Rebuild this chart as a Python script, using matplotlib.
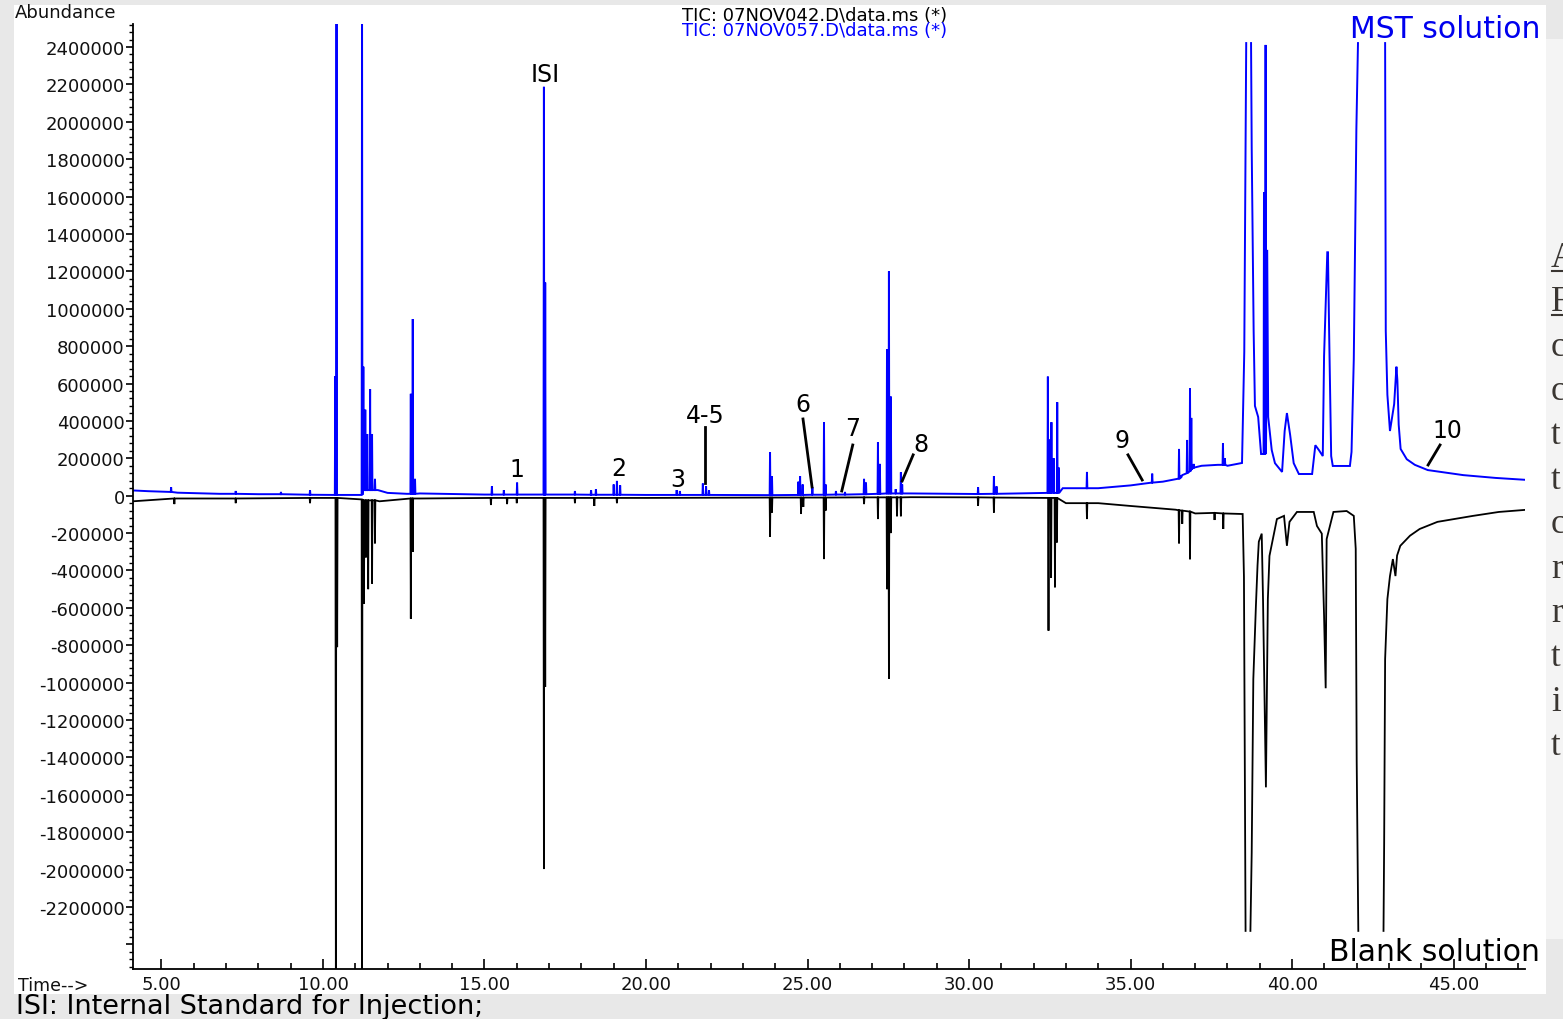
import math
import matplotlib
matplotlib.use("Agg")
import matplotlib.pyplot as plt
from matplotlib.ticker import MultipleLocator, FuncFormatter
from matplotlib.patches import Rectangle
from matplotlib.lines import Line2D

NAN = float('nan')

# --- MST solution (blue, drawn upward) ---
# baseline / contour points (min, abundance)
mst_base_t = [4.12, 4.6, 5.5, 6.8, 8.0, 9.5, 10.30, 11.70, 12.0, 12.6, 13.0, 15.0, 17.0, 20.0, 23.5,
              26.0, 28.2, 30.0, 32.3, 32.9, 33.5, 34.0, 35.0, 36.0, 36.45, 36.6, 36.95, 37.2, 37.7,
              38.0, 38.45, 38.52, 38.58, 38.65, 38.73, 38.75, 38.81, 38.85, 38.95, 39.04, 39.23,
              39.26, 39.37, 39.47, 39.69, 39.77, 39.84, 39.94, 40.05, 40.21, 40.62, 40.72, 40.83,
              40.95, 40.99, 41.09, 41.11, 41.15, 41.21, 41.26, 41.79, 41.84, 41.91, 41.99, 42.04,
              42.45, 42.88, 42.90, 42.95, 43.03, 43.16, 43.23, 43.26, 43.30, 43.36, 43.55, 43.8,
              44.2, 45.3, 46.3, 47.21]
mst_base_y = [28000, 24000, 16000, 10000, 8000, 5000, 4000, 30000, 15000, 10000, 12000, 6000, 6000,
              4000, 3000, 6000, 12000, 9000, 15000, 40000, 40000, 40000, 55000, 75000, 90000, 110000,
              150000, 160000, 165000, 160000, 175000, 769000, 2421000, NAN, 2421000, 1860000,
              881000, 480000, 421000, 223000, 1315000, 421000, 244000, 174000, 127000, 346000,
              442000, 325000, 174000, 116000, 116000, 270000, 244000, 212000, 746000, 1302000,
              1302000, 842000, 212000, 159000, 159000, 234000, 730000, 1961000, 2421000, NAN,
              2421000, 881000, 540000, 346000, 490000, 690000, 615000, 380000, 250000, 195000,
              165000, 137000, 110000, 95000, 85000]
# narrow peaks: retention time, apex, foot
mst_peak_t = [5.3, 7.3, 8.7, 9.6, 10.38, 10.42, 11.21, 11.25, 11.31, 11.37, 11.46, 11.52, 11.61,
              12.72, 12.78, 12.85, 15.23, 15.6, 16.01, 16.84, 16.88, 17.8, 18.3, 18.45, 19.0, 19.1,
              19.2, 20.95, 21.05, 21.76, 21.86, 21.95, 23.84, 23.90, 24.72, 24.77, 24.85, 25.15,
              25.51, 25.56, 25.88, 26.16, 26.75, 26.81, 27.18, 27.24, 27.46, 27.52, 27.58, 27.73,
              27.89, 27.93, 30.28, 30.77, 30.85, 32.44, 32.50, 32.55, 32.62, 32.73, 32.78, 33.65,
              35.67, 36.50, 36.55, 36.75, 36.84, 36.88, 36.95, 37.86, 37.92, 39.13, 39.18]
mst_peak_top = [45000, 25000, 20000, 30000, 640000, 2700000, 2700000, 690000, 460000, 330000,
                570000, 330000, 90000, 545000, 945000, 90000, 50000, 30000, 70000, 2187000,
                1140000, 25000, 30000, 35000, 60000, 79000, 55000, 30000, 25000, 65000, 50000,
                30000, 233000, 105000, 75000, 105000, 60000, 45000, 394000, 60000, 25000, 20000,
                90000, 70000, 287000, 170000, 784000, 1200000, 530000, 35000, 125000, 60000,
                45000, 105000, 50000, 637000, 300000, 393000, 200000, 500000, 150000, 127000,
                118000, 250000, 110000, 298000, 575000, 416000, 170000, 280000, 200000, 1623000,
                2411000]
mst_peak_foot = [20000, 10000, 8000, 5000, 4000, 4000, 4000, 30000, 30000, 30000, 30000, 30000,
                 30000, 10000, 10000, 10000, 6000, 6000, 6000, 6000, 6000, 6000, 5000, 5000, 5000,
                 5000, 5000, 4000, 4000, 4000, 4000, 4000, 3000, 3000, 4000, 4000, 4000, 5000, 5000,
                 5000, 6000, 6000, 8000, 8000, 10000, 10000, 12000, 12000, 12000, 12000, 12000,
                 12000, 9000, 10000, 10000, 15000, 15000, 15000, 15000, 15000, 15000, 40000, 70000,
                 90000, 95000, 120000, 130000, 140000, 150000, 165000, 165000, 223000, 223000]

# --- Blank solution (black, drawn downward) ---
blank_base_t = [4.12, 6.0, 10.30, 11.75, 13.0, 20.0, 28.2, 32.3, 33.0, 34.0, 35.0, 36.4, 37.0,
                38.47, 38.51, 38.56, 38.64, 38.71, 38.75, 38.80, 38.88, 38.93, 38.97, 39.06, 39.10,
                39.19, 39.22, 39.25, 39.30, 39.53, 39.75, 39.84, 39.92, 40.15, 40.67, 40.77, 40.92,
                40.99, 41.04, 41.07, 41.28, 41.69, 41.91, 41.97, 42.00, 42.05, 42.40, 42.83, 42.85,
                42.88, 42.95, 43.03, 43.12, 43.20, 43.25, 43.35, 43.65, 43.95, 44.5, 45.6, 46.4,
                47.21]
blank_base_y = [-30000, -15000, -12000, -30000, -15000, -12000, -8000, -12000, -40000, -40000,
                -55000, -75000, -95000, -98000, -434000, -2328000, NAN, -2328000, -1910000,
                -981000, -590000, -374000, -246000, -203000, -553000, -1560000, -1070000, -553000,
                -322000, -125000, -108000, -268000, -140000, -87000, -87000, -162000, -203000,
                -643000, -1030000, -232000, -87000, -82000, -108000, -284000, -1420000, -2328000,
                NAN, -2328000, -1860000, -874000, -553000, -430000, -339000, -430000, -320000,
                -268000, -214000, -178000, -140000, -108000, -87000, -76000]
blank_peak_t = [5.4, 7.3, 9.6, 10.40, 10.44, 11.21, 11.27, 11.33, 11.40, 11.52, 11.61, 12.72,
                12.78, 15.2, 15.7, 16.0, 16.84, 16.88, 17.8, 18.4, 19.1, 23.84, 23.90, 24.80,
                24.87, 25.51, 25.56, 26.75, 27.18, 27.46, 27.52, 27.58, 27.77, 27.89, 30.28, 30.77,
                32.46, 32.54, 32.66, 32.72, 33.65, 36.50, 36.60, 36.84, 37.60, 37.87]
blank_peak_bot = [-45000, -40000, -40000, -2700000, -810000, -2700000, -577000, -330000, -500000,
                  -470000, -255000, -658000, -300000, -50000, -45000, -40000, -1997000, -1023000,
                  -40000, -55000, -40000, -220000, -90000, -98000, -60000, -339000, -80000,
                  -45000, -125000, -500000, -980000, -200000, -110000, -110000, -55000, -90000,
                  -722000, -440000, -490000, -250000, -125000, -255000, -150000, -340000, -130000,
                  -178000]
blank_peak_foot = [-15000, -15000, -12000, -12000, -12000, -20000, -25000, -25000, -25000,
                   -25000, -25000, -15000, -15000, -12000, -12000, -12000, -12000, -12000, -12000,
                   -12000, -12000, -10000, -10000, -10000, -10000, -10000, -10000, -9000, -9000,
                   -9000, -9000, -9000, -9000, -9000, -9000, -10000, -12000, -12000, -12000,
                   -12000, -40000, -78000, -80000, -85000, -92000, -95000]

# peak labels (text, time, abundance) and their leader lines
lab_text = ["ISI", "1", "2", "3", "4-5", "6", "7", "8", "9", "10"]
lab_t = [16.87, 16.01, 19.16, 20.99, 21.83, 24.86, 26.40, 28.51, 34.73, 44.80]
lab_y = [2255000, 142800, 148200, 89300, 431700, 490500, 362100, 276500, 297900, 351400]
lead_t0 = [21.83, 24.86, 26.40, 28.27, 34.92, 44.58]
lead_y0 = [367500, 410300, 271200, 218400, 218400, 271200]
lead_t1 = [21.83, 25.14, 26.06, 27.93, 35.36, 44.21]
lead_y1 = [67900, 46500, 25100, 78600, 84000, 164200]


def build(base_t, base_y, pk_t, pk_top, pk_foot, w=0.012):
    pts = list(zip(base_t, base_y))
    for t, top, f in zip(pk_t, pk_top, pk_foot):
        pts += [(t - w, f), (t, top), (t + w, f)]
    pts.sort(key=lambda p: p[0])
    return [p[0] for p in pts], [p[1] for p in pts]


W, H = 1563, 1020
fig = plt.figure(figsize=(W / 100, H / 100), dpi=100, facecolor='#e8e8e8')
fig.patches.append(Rectangle((14 / W, 1 - 995 / H), (1546 - 14) / W, (995 - 6) / H,
                             transform=fig.transFigure, facecolor='white', edgecolor='none', zorder=-2))
fig.patches.append(Rectangle((1546 / W, 1 - 940 / H), 20 / W, (940 - 40) / H,
                             transform=fig.transFigure, facecolor='#f4f4f4', edgecolor='none', zorder=-2))

ax = fig.add_axes([133 / W, 1 - 970 / H, (1525 - 133) / W, (970 - 25) / H])
ax.set_facecolor('none')

bt, by = build(blank_base_t, blank_base_y, blank_peak_t, blank_peak_bot, blank_peak_foot)
ax.plot(bt, by, color='black', lw=1.3, solid_joinstyle='miter')
mt, my = build(mst_base_t, mst_base_y, mst_peak_t, mst_peak_top, mst_peak_foot)
ax.plot(mt, my, color='#0000ff', lw=1.4, solid_joinstyle='miter')

ax.set_xlim(4.12, 47.21)
ax.set_ylim(-2531700, 2523000)

for s in ['top', 'right']:
    ax.spines[s].set_visible(False)
for s in ['left', 'bottom']:
    ax.spines[s].set_linewidth(1.3)

ax.xaxis.set_major_locator(MultipleLocator(5))
ax.xaxis.set_minor_locator(MultipleLocator(1))
ax.xaxis.set_major_formatter(FuncFormatter(lambda v, p: '%.2f' % v))
ax.yaxis.set_major_locator(MultipleLocator(200000))
ax.yaxis.set_minor_locator(MultipleLocator(40000))
ax.yaxis.set_major_formatter(FuncFormatter(lambda v, p: '%d' % round(v) if -2300000 < v < 2500000 else ''))
ax.tick_params(axis='x', which='major', direction='in', length=7, width=1.2, pad=4,
               labelsize=13, labelcolor='#111111')
ax.tick_params(axis='x', which='minor', direction='in', length=4, width=1.2)
ax.tick_params(axis='y', which='major', direction='out', length=5, width=1.2, pad=1,
               labelsize=13, labelcolor='#111111')
ax.tick_params(axis='y', which='minor', direction='out', length=3, width=1.0)

for s, t, y in zip(lab_text, lab_t, lab_y):
    ax.text(t, y, s, fontsize=17, ha='center', va='center', color='black')
for t0, y0, t1, y1 in zip(lead_t0, lead_y0, lead_t1, lead_y1):
    ax.plot([t0, t1], [y0, y1], color='black', lw=2)


def px(x, y):
    return x / W, 1 - y / H


fig.text(*px(15, 13), 'Abundance', fontsize=13, ha='left', va='center', color='#111111')
fig.text(*px(682, 16), 'TIC: 07NOV042.D\\data.ms (*)', fontsize=13, ha='left', va='center',
         color='black')
fig.text(*px(682, 31), 'TIC: 07NOV057.D\\data.ms (*)', fontsize=13, ha='left', va='center',
         color='#0000ff')
fig.text(*px(1540, 29), 'MST solution', fontsize=21.5, ha='right', va='center', color='#0000ee')
fig.text(*px(1540, 953), 'Blank solution', fontsize=21.5, ha='right', va='center', color='black')
fig.text(*px(18, 986), 'Time-->', fontsize=12.5, ha='left', va='center', color='#111111')
fig.text(*px(16, 1007), 'ISI: Internal Standard for Injection;', fontsize=19.5, ha='left',
         va='center', color='black')

# cut-off slide text at the right edge
fig.text(*px(1551, 242), 'A\nF\nc\nc\nt\nt\nc\nr\nr\nt\ni\nt', fontsize=25, ha='left', va='top',
         family='Liberation Serif', color='#3a3632', linespacing=1.455)
for yy in (272, 316):
    fig.add_artist(Line2D([1552 / W, 1.0], [1 - yy / H] * 2, transform=fig.transFigure,
                          color='#3a3632', lw=1.5))

fig.savefig('out.png', dpi=100, facecolor=fig.get_facecolor())
